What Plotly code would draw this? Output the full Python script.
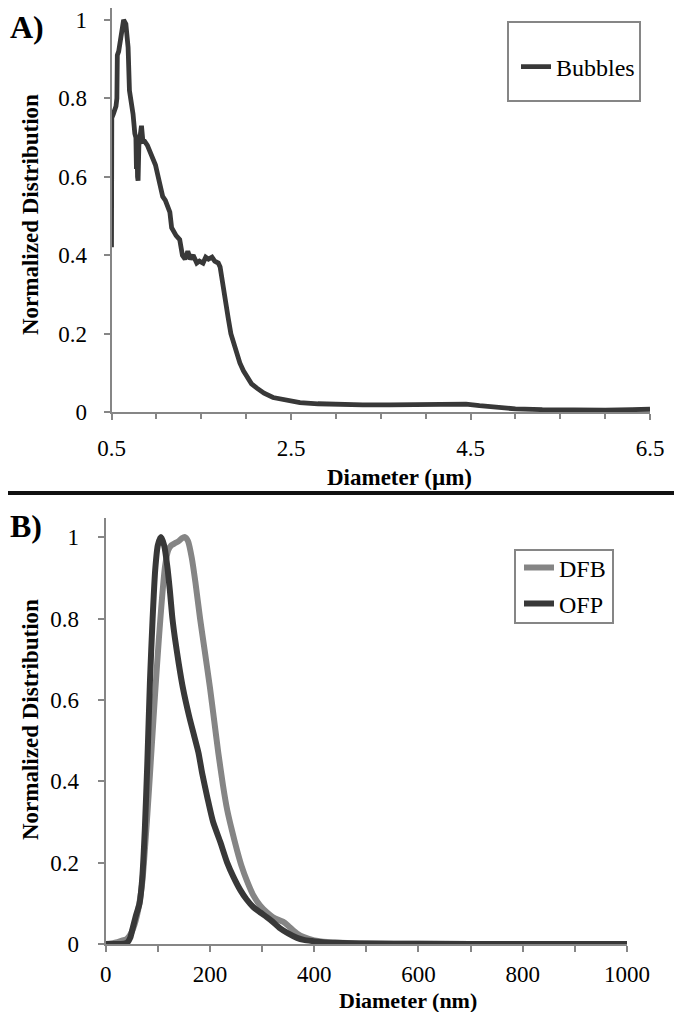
import plotly.graph_objects as go

# The page body adds an 8 px margin, so the figure is a little smaller than the
# window and every position below is given in window pixels, shifted by OFF.
PAGE_W, PAGE_H = 682, 1020
OFF = 8
W, H = PAGE_W - 2 * OFF, PAGE_H - 2 * OFF

# Panel A: bubble size distribution (diameter in micrometres)
bubbles_um = [
    0.500, 0.503, 0.52, 0.55, 0.56, 0.565, 0.58, 0.60, 0.615, 0.635,
    0.66, 0.675, 0.685, 0.70, 0.72, 0.74, 0.76, 0.772, 0.778, 0.785,
    0.79, 0.796, 0.805, 0.82, 0.834, 0.85, 0.87, 0.90, 0.92, 0.94,
    0.97, 0.99, 1.02, 1.04, 1.07, 1.10, 1.13, 1.15, 1.17, 1.19,
    1.22, 1.26, 1.29, 1.32, 1.35, 1.38, 1.41, 1.45, 1.48, 1.52,
    1.55, 1.58, 1.62, 1.65, 1.69, 1.71, 1.74, 1.77, 1.80, 1.83,
    1.86, 1.90, 1.93, 1.97, 2.01, 2.06, 2.12, 2.20, 2.30, 2.45,
    2.60, 2.80, 3.00, 3.30, 3.60, 3.90, 4.10, 4.30, 4.45, 4.60,
    4.80, 5.00, 5.30, 5.60, 6.00, 6.30, 6.50,
]
bubbles_norm = [
    0.42, 0.75, 0.76, 0.78, 0.80, 0.91, 0.92, 0.95, 0.99, 1.00,
    0.99, 0.96, 0.93, 0.82, 0.79, 0.76, 0.71, 0.70, 0.62, 0.69,
    0.60, 0.59, 0.68, 0.70, 0.73, 0.69, 0.69, 0.68, 0.67, 0.66,
    0.64, 0.63, 0.60, 0.58, 0.55, 0.54, 0.52, 0.51, 0.47, 0.46,
    0.45, 0.44, 0.40, 0.39, 0.41, 0.39, 0.40, 0.38, 0.385, 0.38,
    0.395, 0.39, 0.395, 0.385, 0.38, 0.37, 0.32, 0.28, 0.24, 0.20,
    0.175, 0.145, 0.125, 0.105, 0.088, 0.072, 0.061, 0.048, 0.037, 0.029,
    0.024, 0.021, 0.019, 0.018, 0.018, 0.019, 0.020, 0.021, 0.020, 0.016,
    0.011, 0.008, 0.006, 0.005, 0.005, 0.006, 0.007,
]

# Panel B: nanodroplet distributions (diameter in nm)
dfb_nm = [0, 10, 20, 30, 40, 50, 60, 70, 80, 88, 95, 102, 108, 114, 120, 126, 133,
          140, 146, 152, 158, 165, 172, 181, 190, 200, 208, 216, 225, 233, 242, 252,
          261, 271, 283, 296, 309, 321, 330, 340, 350, 360, 367, 380, 400, 425, 450,
          500, 600, 800, 1000]
dfb_norm = [0, 0.001, 0.004, 0.008, 0.012, 0.03, 0.07, 0.15, 0.32, 0.48, 0.62, 0.75,
            0.85, 0.93, 0.968, 0.98, 0.985, 0.99, 0.997, 1.0, 0.99, 0.95, 0.89, 0.8,
            0.72, 0.63, 0.55, 0.47, 0.39, 0.33, 0.28, 0.23, 0.19, 0.155, 0.12, 0.095,
            0.078, 0.066, 0.06, 0.055, 0.045, 0.033, 0.026, 0.017, 0.009, 0.005, 0.003,
            0.001, 0.0005, 0, 0]
ofp_nm = [0, 20, 35, 41, 47, 52, 58, 65, 70, 75, 80, 85, 90, 95, 100, 106, 112, 118,
          123, 128, 133, 140, 148, 160, 170, 178, 185, 195, 206, 220, 233, 245, 258,
          270, 283, 296, 309, 320, 334, 350, 367, 380, 398, 420, 440, 470, 500, 600,
          800, 1000]
ofp_norm = [0, 0, 0.001, 0.003, 0.015, 0.04, 0.07, 0.1, 0.16, 0.28, 0.45, 0.65, 0.8,
            0.92, 0.98, 1.0, 0.98, 0.93, 0.87, 0.8, 0.75, 0.69, 0.63, 0.56, 0.51, 0.47,
            0.42, 0.36, 0.30, 0.25, 0.2, 0.165, 0.133, 0.11, 0.091, 0.078, 0.066, 0.055,
            0.039, 0.026, 0.015, 0.01, 0.007, 0.004, 0.003, 0.002, 0.001, 0.0005, 0, 0]

FONT = "Liberation Serif"
AXIS_GREY = "#868686"
DARK = "#383838"
LIGHT = "#858585"


def fx(px):
    return (px - OFF) / W


def fy(py):
    return 1 - (py - OFF) / H


fig = go.Figure()

fig.add_trace(go.Scatter(
    x=bubbles_um, y=bubbles_norm, mode="lines", name="Bubbles",
    line=dict(color=DARK, width=4.8), xaxis="x", yaxis="y", legend="legend",
))
fig.add_trace(go.Scatter(
    x=dfb_nm, y=dfb_norm, mode="lines", name="DFB",
    line=dict(color=LIGHT, width=6, shape="spline", smoothing=0.6),
    xaxis="x2", yaxis="y2", legend="legend2",
))
fig.add_trace(go.Scatter(
    x=ofp_nm, y=ofp_norm, mode="lines", name="OFP",
    line=dict(color=DARK, width=6, shape="spline", smoothing=0.6),
    xaxis="x2", yaxis="y2", legend="legend3",
))

axis_common = dict(
    showgrid=False, zeroline=False, showline=True, linecolor=AXIS_GREY, linewidth=2,
    ticks="outside", tickcolor=AXIS_GREY, tickwidth=2, ticklen=6, automargin=False,
    tickfont=dict(family=FONT, size=23, color="black"),
)

legend_common = dict(
    bgcolor="rgba(0,0,0,0)", borderwidth=0, xanchor="left", yanchor="middle",
    font=dict(family=FONT, size=24, color="black"), itemwidth=30,
)

fig.update_layout(
    template="none",
    width=W, height=H, autosize=False,
    margin=dict(l=0, r=0, t=0, b=0, pad=0, autoexpand=False),
    paper_bgcolor="white", plot_bgcolor="rgba(0,0,0,0)",
    showlegend=True,
    xaxis=dict(axis_common, domain=[fx(111.5), fx(650)], range=[0.5, 6.5],
               tick0=0.5, dtick=2, ticklabelstandoff=8, anchor="y",
               minor=dict(dtick=0.5, tick0=0.5, ticks="outside", ticklen=5,
                          tickcolor=AXIS_GREY, tickwidth=2)),
    yaxis=dict(axis_common, domain=[fy(412), fy(OFF)],
               range=[0, 1.051 * (412 - OFF) / 412],
               tick0=0, dtick=0.2, ticklabelstandoff=12, anchor="x"),
    xaxis2=dict(axis_common, domain=[fx(105.7), fx(627)], range=[0, 1000],
                tick0=0, dtick=200, ticklabelstandoff=2, anchor="y2",
                minor=dict(dtick=100, ticks="outside", ticklen=6,
                           tickcolor=AXIS_GREY, tickwidth=2)),
    yaxis2=dict(axis_common, domain=[fy(944), fy(518)], range=[0, 1.047],
                tick0=0, dtick=0.2, ticklabelstandoff=14, anchor="x2"),
    legend=dict(legend_common, x=fx(516), y=fy(67)),
    legend2=dict(legend_common, x=fx(519), y=fy(568)),
    legend3=dict(legend_common, x=fx(519), y=fy(604)),
)

# legend frames and the separator between the panels
fig.add_shape(type="rect", xref="paper", yref="paper",
              x0=fx(508), x1=fx(640), y0=fy(101), y1=fy(22),
              line=dict(color=AXIS_GREY, width=2))
fig.add_shape(type="rect", xref="paper", yref="paper",
              x0=fx(515), x1=fx(613), y0=fy(623), y1=fy(550),
              line=dict(color=AXIS_GREY, width=2))
fig.add_shape(type="line", xref="paper", yref="paper",
              x0=0, x1=1, y0=fy(493), y1=fy(493),
              line=dict(color="#111111", width=4))

labels = [
    ("<b>A)</b>", 8, 27, 0, "left", 32),
    ("<b>B)</b>", 8, 526, 0, "left", 32),
    ("<b>Normalized Distribution</b>", 30, 215, -90, "center", 23),
    ("<b>Normalized Distribution</b>", 30, 720, -90, "center", 23),
    ("<b>Diameter (µm)</b>", 400, 477, 0, "center", 23),
    ("<b>Diameter (nm)</b>", 408, 1000, 0, "center", 22),
]
for text, px, py, angle, anchor, size in labels:
    fig.add_annotation(
        text=text, xref="paper", yref="paper", x=fx(px), y=fy(py),
        xanchor=anchor, yanchor="middle", textangle=angle, showarrow=False,
        font=dict(family=FONT, size=size, color="black"),
    )

fig.write_html("out.html")
